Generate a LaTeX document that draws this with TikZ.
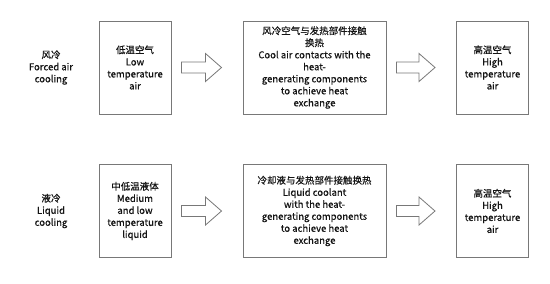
\documentclass[tikz,border=0pt]{standalone}
\usepackage{fontspec}
\setmainfont{Noto Sans CJK SC}[FakeBold=0.5]
\usetikzlibrary{calc,positioning}
\definecolor{frame}{RGB}{120,120,120}
\definecolor{ink}{RGB}{20,20,20}
\tikzset{
  stage/.style={draw=frame,line width=1pt,fill=white,minimum height=93pt,
    align=center,inner sep=2pt,text=ink},
  narrow/.style={stage,minimum width=72pt},
  wide/.style={stage,minimum width=143pt},
  mode/.style={align=center,text=ink},
  flow/.style={draw=frame,line width=0.8pt,fill=white,line join=miter}
}
% hollow block arrow from one box to the next
\newcommand{\flowarrow}[2]{%
  \draw[flow] let \p1=($(#1.east)+(10,0)$), \p2=($(#2.west)+(-21,0)$) in
    (\x1,\y1+5.5pt) -- (\x2-16pt,\y1+5.5pt) -- (\x2-16pt,\y1+14pt) -- (\x2,\y1)
    -- (\x2-16pt,\y1-14pt) -- (\x2-16pt,\y1-5.5pt) -- (\x1,\y1-5.5pt) -- cycle;}

\begin{document}
\begin{tikzpicture}[x=1pt,y=-1pt,font=\fontsize{9.5}{12}\selectfont]
  \useasboundingbox[fill=white] (0,0) rectangle (550,284);
  % forced air cooling
  \node[mode] (airmode) at (51,67.5) {风冷\\Forced air\\cooling};
  \node[narrow] (airin) at (135,67.5) {低温空气\\Low\\temperature\\air};
  \node[wide] (airex) at (314.5,67.5)
     {风冷空气与发热部件接触\\换热\\Cool air contacts with the\\heat-\\generating components\\to achieve heat\\exchange};
  \node[narrow] (airout) at (492.5,67.5) {高温空气\\High\\temperature\\air};
  \flowarrow{airin}{airex}
  \flowarrow{airex}{airout}
  % liquid cooling
  \node[mode] (liqmode) at (51,211) {液冷\\Liquid\\cooling};
  \node[narrow] (liqin) at (135,211) {中低温液体\\Medium\\and low\\temperature\\liquid};
  \node[wide] (liqex) at (314.5,211)
     {冷却液与发热部件接触换热\\Liquid coolant\\with the heat-\\generating components\\to achieve heat\\exchange};
  \node[narrow] (liqout) at (492.5,211) {高温空气\\High\\temperature\\air};
  \flowarrow{liqin}{liqex}
  \flowarrow{liqex}{liqout}
\end{tikzpicture}
\end{document}
